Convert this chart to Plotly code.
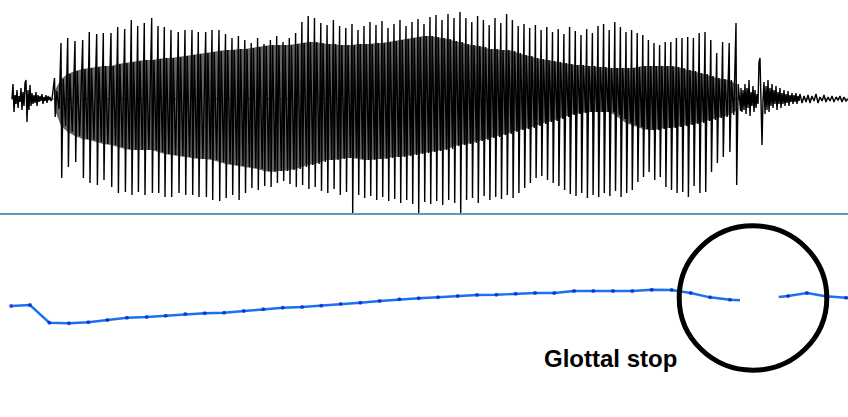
import plotly.graph_objects as go

# ---------------- waveform (time in ms, amplitude in arbitrary units) ----------------
# breathy onset before voicing
pre_t = [12, 13, 14, 15, 16, 17, 18, 19, 20, 21, 22, 23, 24, 25, 26, 27, 28, 29, 30, 31,
         32, 33, 34, 35, 36, 37, 38, 39, 40, 41, 42, 43, 44, 45, 46, 47, 48, 49, 50, 51, 52]
pre_amp = [0, 15, -13, 4, -5, 9, -9, 3, -3, 11, -11, 7, -7, 16, 19, -23, 9, -11, 14, -7,
           6, -5, 4, -4, 7, -7, 4, -3, 3, -2, 5, -5, 2, -2, 4, -4, 3, -1, 2, -2, 0]

# glottal pulses: time of each pulse, its positive peak and negative trough
pulse_t = [54.5, 61, 67.7, 75, 82.7, 89.3, 96.7, 103.3, 111, 117.7, 124.7, 131.3, 137.7,
           144.3, 151.7, 158, 164.3, 171, 178.3, 185, 192, 198.3, 205.7, 212, 219, 225.5,
           232, 238.4, 244.8, 251.2, 257.6, 264, 270.4, 276.7, 283, 289.3, 295.6, 301.9,
           308.2, 314.5, 320.8, 327.1, 333.4, 339.6, 345.8, 352, 358, 364, 370, 376, 382,
           388, 394, 400, 406, 412, 418, 424, 430, 436, 442, 448, 454, 460, 465.9, 471.8,
           477.6, 483.4, 489.2, 495, 500.8, 506.6, 512.4, 518.2, 524, 529.7, 535.4, 541.1,
           546.8, 552.5, 558.2, 563.9, 569.6, 575.3, 581, 586.7, 592.4, 598, 603.6, 609.2,
           614.8, 620.4, 626, 631.6, 637.2, 642.8, 648.4, 654, 659.6, 665.2, 670.8, 676.4,
           682, 687.7, 693.4, 699.2, 705, 710.8, 716.7, 722.6, 729.2, 736]
pulse_peak = [21, 56, 61, 58, 59, 67, 65, 66, 66, 72, 70, 79, 73, 76, 81, 73, 72, 69, 67,
              69, 69, 67, 67, 69, 69, 65, 61, 63, 59, 56, 61, 55, 59, 63, 57, 61, 66, 77,
              83, 81, 76, 74, 79, 73, 71, 75, 69, 73, 77, 74, 78, 71, 75, 79, 73, 77, 80,
              75, 82, 84, 79, 85, 81, 87, 81, 77, 83, 79, 74, 81, 76, 85, 79, 73, 75, 71,
              74, 69, 72, 67, 70, 65, 72, 68, 64, 70, 66, 73, 75, 69, 77, 72, 67, 69, 66,
              64, 59, 56, 54, 57, 57, 61, 61, 62, 61, 66, 67, 59, 46, 57, 56, 76]
pulse_trough = [-18, -79, -68, -63, -79, -84, -86, -81, -88, -94, -93, -96, -93, -96, -94,
                -94, -98, -98, -94, -96, -96, -98, -98, -101, -102, -99, -96, -101, -94,
                -89, -91, -87, -88, -84, -82, -85, -88, -86, -90, -88, -92, -94, -90, -96,
                -93, -114, -96, -99, -97, -101, -98, -102, -100, -104, -101, -105, -114,
                -103, -105, -102, -106, -101, -104, -114, -101, -99, -104, -97, -101, -98,
                -100, -96, -99, -94, -89, -84, -79, -77, -81, -84, -87, -91, -95, -97, -94,
                -99, -96, -98, -94, -97, -92, -98, -94, -91, -83, -78, -73, -81, -78, -88,
                -91, -94, -93, -98, -87, -94, -93, -73, -64, -58, -53, -86]
# formant ringing inside each period (first rebound up, then down)
ring_hi = [8, 20, 25, 28, 30, 31, 32, 33, 33, 35, 36, 37, 38, 39, 39, 40, 41, 41, 42, 43,
           44, 45, 46, 47, 48, 49, 49, 50, 50, 51, 52, 53, 54, 54, 54, 54, 55, 56, 57, 57,
           56, 55, 55, 54, 54, 54, 55, 55, 55, 56, 56, 57, 58, 59, 60, 61, 62, 63, 63, 62,
           61, 60, 58, 57, 55, 54, 53, 52, 50, 50, 49, 49, 48, 46, 44, 43, 41, 40, 39, 38,
           37, 36, 35, 34, 34, 33, 33, 32, 32, 31, 31, 31, 31, 31, 32, 33, 33, 33, 33, 33,
           33, 32, 31, 29, 28, 26, 25, 23, 21, 20, 19, 15]
ring_lo = [-10, -27, -33, -37, -40, -41, -43, -45, -46, -48, -50, -51, -51, -51, -51, -53,
           -55, -56, -57, -58, -59, -60, -60, -61, -63, -65, -66, -67, -68, -69, -70, -72,
           -73, -72, -72, -71, -70, -68, -66, -65, -63, -61, -61, -60, -59, -59, -60, -61,
           -61, -60, -60, -59, -58, -58, -57, -56, -55, -54, -53, -52, -51, -50, -47, -46,
           -45, -44, -42, -41, -39, -38, -36, -35, -33, -31, -30, -29, -27, -25, -23, -22,
           -20, -18, -16, -15, -14, -13, -13, -13, -13, -13, -16, -20, -24, -26, -28, -30,
           -31, -31, -30, -29, -29, -28, -27, -26, -25, -24, -22, -21, -19, -18, -16, -12]

# decaying noise after the glottal closure
post_t = [741, 742, 743, 744, 745, 746, 747, 748, 749, 750, 751, 752, 753, 754, 755,
          756, 757, 758, 759, 760, 761, 762, 763, 764, 765, 766, 767, 768, 769, 770, 771,
          772, 773, 774, 775, 776, 777, 778, 779, 780, 781, 782, 783, 784, 785, 786, 787,
          788, 789, 790, 791, 792, 793, 794, 795, 796, 797, 798, 799, 800, 802, 804, 806,
          808, 810, 812, 814, 816, 818, 820, 822, 824, 826, 828, 830, 832, 834, 836, 838,
          840, 842, 844, 846, 848]
post_amp = [11, -13, 9, -11, 15, -15, 11, -9, 19, -17, 7, -7, 13, -13, 9, -9, 5, -5, 37,
            41, -19, -46, -1, 17, -15, 13, -11, 19, -13, 11, -7, 15, -9, 9, -5, 13, -11, 7,
            -5, 11, -9, 6, -5, 9, -7, 5, -4, 8, -7, 4, -3, 6, -5, 4, -3, 6, -5, 3, -2, 5,
            -4, 3, -3, 4, -4, 3, -2, 5, -4, 2, -2, 4, -3, 2, -2, 3, -3, 2, -1, 3, -3, 2, -2, 0]

# ---------------- pitch contour (Hz); None marks the unvoiced gap ----------------
pitch_t = [11, 30, 49.3, 69, 88.3, 107.3, 127, 146.7, 165.7, 185.3, 204.7, 224, 243.7,
           263.3, 282.7, 302, 321.3, 340.7, 360.3, 379.7, 399.3, 418.7, 438, 457.7, 477,
           496.3, 515.7, 535, 554.3, 574, 593.3, 613, 632.3, 651.7, 671.7, 690.7, 710, 730,
           740, None, 778.7, 788, 807, 825.7, 846, 848]
pitch_hz = [162, 163, 145.3, 144.7, 145.7, 148, 150.3, 151, 152.3, 154, 154.7, 155.3, 157,
            158.7, 160.2, 161, 162.3, 164, 165.3, 167, 168.7, 169.7, 170.7, 172, 173, 173.3,
            174.3, 175, 175, 177, 177, 177, 177, 178.3, 178, 175, 170.7, 168.3, 167.7, None,
            171, 172, 175, 171.7, 170.3, 170]
# contour ends (segment edges) carry no frame marker
pitch_marker = [4 if t not in (740, 778.7, 848, None) else 0 for t in pitch_t]

label_text = "Glottal stop"
label_t, label_hz = 610, 110
circle_t = (679.2, 826.8)
circle_hz = (97.8, 242.2)

# ---------------- build figure ----------------
fig = go.Figure()

# zero line of the waveform
fig.add_shape(type="line", xref="x", yref="y", x0=11, x1=848, y0=0, y1=0,
              line=dict(color="#3f87aa", width=1, dash="dash"), layer="below")

# dense ringing band behind the pulses
fig.add_trace(go.Scatter(x=pulse_t + pulse_t[::-1], y=ring_hi + ring_lo[::-1],
                         fill="toself", fillcolor="rgba(0,0,0,0.6)",
                         line=dict(width=0), mode="lines", hoverinfo="skip",
                         showlegend=False, yaxis="y"))

# voiced waveform: each period = main peak, trough, then one ringing cycle
wave_x, wave_y = list(pre_t), list(pre_amp)
for t, p, q, rh, rl in zip(pulse_t, pulse_peak, pulse_trough, ring_hi, ring_lo):
    wave_x += [t, t + 0.7, t + 2.2, t + 4.6]
    wave_y += [p, q, rh, rl]
wave_x += post_t
wave_y += post_amp
fig.add_trace(go.Scatter(x=wave_x, y=wave_y, mode="lines",
                         line=dict(color="black", width=1.4), hoverinfo="skip",
                         showlegend=False, yaxis="y"))

# pitch track
fig.add_trace(go.Scatter(x=pitch_t, y=pitch_hz, mode="lines+markers", connectgaps=False,
                         line=dict(color="#1a72f0", width=2.4),
                         marker=dict(size=pitch_marker, color="#1414c8", line=dict(width=0)),
                         showlegend=False, xaxis="x", yaxis="y2"))

# divider between the two panels
fig.add_shape(type="line", xref="paper", yref="paper", x0=0, x1=1,
              y0=1 - 214 / 417, y1=1 - 214 / 417,
              line=dict(color="#5b9db7", width=2))

# circled region
fig.add_shape(type="circle", xref="x", yref="y2",
              x0=circle_t[0], x1=circle_t[1], y0=circle_hz[0], y1=circle_hz[1],
              line=dict(color="black", width=5))

fig.add_annotation(x=label_t, y=label_hz, xref="x", yref="y2", text=label_text,
                   showarrow=False,
                   font=dict(family="Liberation Sans", size=24, color="black", weight="bold"))

fig.update_layout(
    width=848, height=417,
    margin=dict(l=0, r=0, t=0, b=0),
    paper_bgcolor="white", plot_bgcolor="white",
    xaxis=dict(range=[0, 848], visible=False, fixedrange=True),
    yaxis=dict(domain=[1 - 214 / 417, 1], range=[-115, 99], visible=False),
    yaxis2=dict(domain=[0, 1 - 215 / 417], range=[51, 253], visible=False),
    showlegend=False,
)

fig.write_html("out.html")
